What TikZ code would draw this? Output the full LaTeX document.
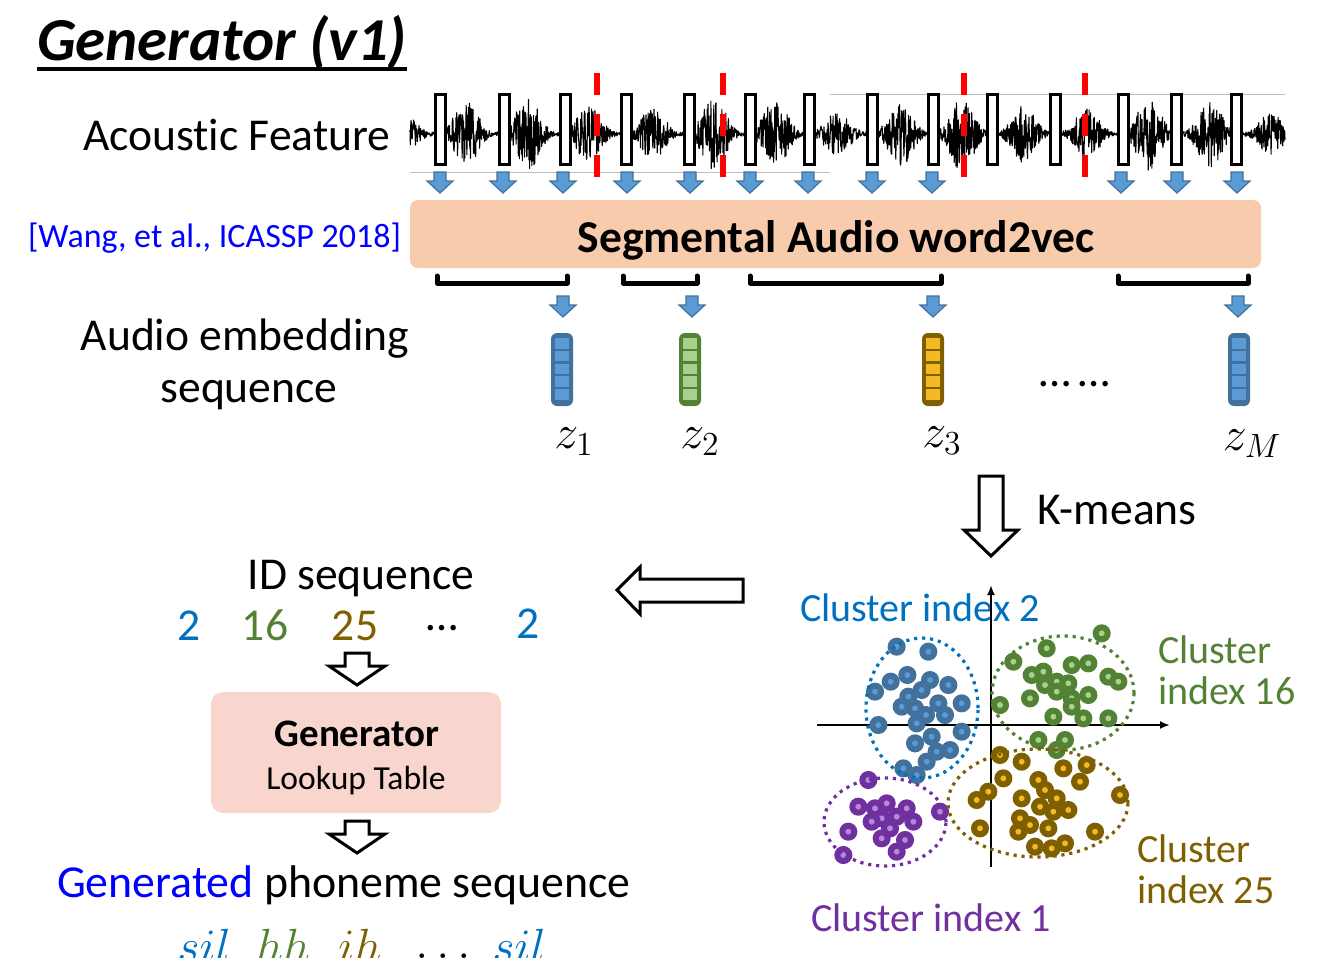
\RequirePackage{fix-cm}
\documentclass[tikz,border=0pt]{standalone}
\usepackage{fontspec}
\setmainfont{Carlito}[Ligatures=CommonOff]
\usetikzlibrary{arrows.meta}
\definecolor{peach}{HTML}{F8CBAD}
\definecolor{pinkbox}{HTML}{F9D6CD}
\definecolor{bfill}{HTML}{5B9BD5}
\definecolor{bdark}{HTML}{41719C}
\definecolor{gfill}{HTML}{A9D18E}
\definecolor{gdark}{HTML}{548235}
\definecolor{yfill}{HTML}{F5B921}
\definecolor{ydark}{HTML}{7F6000}
\definecolor{pfill}{HTML}{B18BD8}
\definecolor{pdark}{HTML}{7030A0}
\definecolor{cblue}{HTML}{0070C0}
\definecolor{cgreen}{HTML}{548235}
\definecolor{cgold}{HTML}{7F6000}
\definecolor{cpurple}{HTML}{7030A0}
\definecolor{linkblue}{HTML}{0000FF}
\newcommand\fsz[2]{\fontsize{#1}{#2}\selectfont}
\newcommand\embv[4]{%
  \begin{scope}[shift={(#2,333)}]
    \fill[#3, rounded corners=3pt] (-11,0) rectangle (11,73);
    \foreach \k in {0,...,4} \fill[#4] (-7,{5+\k*12.8}) rectangle (7,{5+\k*12.8+10.5});
    \coordinate (#1) at (0,36);
  \end{scope}}
\begin{document}
\begin{tikzpicture}[x=0.5pt,y=-0.5pt,
  lbl/.style={inner sep=0pt, outer sep=0pt},
  big/.style={lbl, font=\fsz{22.8}{27}},
  clus/.style={lbl, font=\fsz{20}{24}, anchor=base west},
  hollow/.style={draw=black, line width=1.5pt, fill=white, line join=miter},
  seg/.style={line width=2.5pt, line cap=round, line join=round},
  bar/.style={draw=black, line width=1.5pt, fill=white},
  redcut/.style={red, line width=3pt, dash pattern=on 11pt off 9.5pt},
  ell/.style={line width=1.6pt, dash pattern=on 1.6pt off 2.4pt},
  dotb/.style={draw=bdark, fill=bfill, line width=3pt},
  dotg/.style={draw=gdark, fill=gfill, line width=3pt},
  doty/.style={draw=ydark, fill=yfill, line width=3pt},
  dotp/.style={draw=pdark, fill=pfill, line width=3pt},
  axis/.style={line width=1pt, -{Latex[length=5pt,width=4pt]}},
  barrow/.pic={\draw[draw=bdark, fill=bfill, line width=0.6pt, line join=miter]
     (-6,0) -- (6,0) -- (6,9) -- (13,9) -- (0,21) -- (-13,9) -- (-6,9) -- cycle;},
  hdown/.pic={\draw[hollow] (-12,0) -- (12,0) -- (12,13) -- (28,13) -- (0,32) -- (-28,13) -- (-12,13) -- cycle;},
]
\useasboundingbox (0,0) rectangle (1333,958);
\clip (0,0) rectangle (1333,958);

% title
\node[lbl, anchor=base west, font=\fsz{30.5}{36}\bfseries\itshape] (title) at (37,60) {Generator (v1)};
\draw[line width=1.6pt] ([yshift=-4.5pt]title.base west) -- ([yshift=-4.5pt]title.base east);

% acoustic feature
\node[big, anchor=base west] (acoustic) at (83,150) {Acoustic Feature};
\draw[gray!50, line width=0.5pt] (410,172) -- (830,172);
\draw[gray!50, line width=0.5pt] (830,94) -- (1285,94);
\pgfmathsetseed{4321}
\draw[line width=0.55pt, line join=round] plot[domain=410:1285, samples=2400]
  (\x,{134+(2+35*(abs(sin(2.9*\x)))^3*(0.5+0.5*abs(sin(0.83*\x+20))))*rand});
\foreach \xx in {440,504,565,626,689,750,809,872,933,992,1055,1123,1176,1236}
  \draw[bar] (\xx-5,94) rectangle (\xx+5,164);
\foreach \xx in {597,723,964,1085}
  \draw[redcut] (\xx,73) -- (\xx,177);
\foreach \xx in {440,503,563,627,690,750,808,872,932,1121,1177,1237}
  \pic at (\xx,172) {barrow};

% segmental audio word2vec
\node[lbl, anchor=base west, font=\fsz{17}{20}, text=linkblue] (wang) at (28,247) {[Wang, et al., ICASSP 2018]};
\node[lbl, fill=peach, rounded corners=4pt, minimum width=425.5pt, minimum height=34pt] (s2v) at (835.5,234) {};
\node[lbl, anchor=base, font=\fsz{22.8}{27}\bfseries] (s2vtext) at (836,252) {Segmental Audio word2vec};

% brackets
\draw[seg] (437,276) -- (437,283) -- (567,283) -- (567,276);
\draw[seg] (623,276) -- (623,283) -- (697,283) -- (697,276);
\draw[seg] (750,276) -- (750,283) -- (941,283) -- (941,276);
\draw[seg] (1118,276) -- (1118,283) -- (1248,283) -- (1248,276);
\foreach \xx in {563,692,933,1238} \pic at (\xx,296) {barrow};

% embeddings
\node[big, anchor=base] (embA) at (245,350) {Audio embedding};
\node[big, anchor=base] (embB) at (249,402) {sequence};
\embv{v1}{562}{bdark}{bfill}
\embv{v2}{690}{gdark}{gfill}
\embv{v3}{933}{ydark}{yfill}
\embv{vM}{1239}{bdark}{bfill}
\node[lbl, font=\fsz{24}{28}] (z1) at (574,442) {$z_1$};
\node[lbl, font=\fsz{24}{28}] (z2) at (700,442) {$z_2$};
\node[lbl, font=\fsz{24}{28}] (z3) at (942,441) {$z_3$};
\node[lbl, font=\fsz{24}{28}] (zM) at (1252,444) {$z_M$};
\node[big, anchor=base] (edots) at (1075,386) {…\,…};

% K-means
\draw[hollow] (979,476) -- (1003,476) -- (1003,530) -- (1018,530) -- (991,556) -- (964,530) -- (979,530) -- cycle;
\node[big, anchor=base west] (kmeans) at (1037,524) {K-means};

% left arrow
\draw[hollow] (617,590) -- (640,567) -- (640,579) -- (743,579) -- (743,602) -- (640,602) -- (640,614) -- cycle;

% ID sequence
\node[big, anchor=base] (idseq) at (361,589) {ID sequence};
\node[big, anchor=base, text=cblue] (n1) at (189,640) {2};
\node[big, anchor=base, text=cgreen] (n2) at (265,640) {16};
\node[big, anchor=base, text=cgold] (n3) at (355,640) {25};
\node[big, anchor=base] (n4) at (442,630) {…};
\node[big, anchor=base, text=cblue] (n5) at (528,638) {2};
\pic at (357,653) {hdown};
\node[lbl, fill=pinkbox, rounded corners=6pt, minimum width=145pt, minimum height=60.5pt] (gen) at (356,752.5) {};
\node[lbl, anchor=base, font=\fsz{19.5}{24}\bfseries] (genA) at (357,746) {Generator};
\node[lbl, anchor=base, font=\fsz{16.8}{20}] (genB) at (356,789) {Lookup Table};
\pic at (357,821) {hdown};
\node[lbl, anchor=base west, font=\fsz{22.9}{28}] (gps) at (57,897) {\textcolor{linkblue}{Generated} phoneme sequence};
\node[lbl, anchor=base, font=\fsz{24}{28}, text=cblue] (p1) at (204,962) {$sil$};
\node[lbl, anchor=base, font=\fsz{24}{28}, text=cgreen] (p2) at (283,962) {$hh$};
\node[lbl, anchor=base, font=\fsz{24}{28}, text=cgold] (p3) at (360,962) {$ih$};
\node[lbl, anchor=base, font=\fsz{24}{28}] (p4) at (443,958) {$\ldots$};
\node[lbl, anchor=base, font=\fsz{24}{28}, text=cblue] (p5) at (519,962) {$sil$};

% scatter
\node[clus, text=cblue] (c2) at (800,621) {Cluster index 2};
\node[clus, text=cgreen] (c16a) at (1158,663) {Cluster};
\node[clus, text=cgreen] (c16b) at (1158,704) {index 16};
\node[clus, text=cgold] (c25a) at (1137,862) {Cluster};
\node[clus, text=cgold] (c25b) at (1137,903) {index 25};
\node[clus, text=cpurple] (c1) at (811,931) {Cluster index 1};
\coordinate (ybot) at (991,867);
\coordinate (ytop) at (991,585);
\coordinate (xl) at (817,725);
\coordinate (xr) at (1170,725);
\draw[axis] (ybot) -- (ytop);
\draw[axis] (xl) -- (xr);
\begin{scope}[shift={(800,580)}]
\begin{scope}[x=0.16667pt,y=-0.16667pt]
\foreach \a/\b in {290/200,385/215,225/335,272/305,322/285,390/300,445/315,365/330,325/350,305/380,345/385,415/370,485/370,235/435,350/430,378/405,435/405,485/455,345/490,395/470,450/510,410/515,380/545,310/565,350/585}
  \draw[dotb] (\a,\b) circle[radius=3pt];
\foreach \a/\b in {905/160,740/205,640/245,695/285,730/275,770/305,735/315,815/255,865/250,805/310,770/335,815/355,865/345,925/290,955/305,690/355,600/375,815/380,760/410,850/415,925/415,715/480,795/480,770/510}
  \draw[dotg] (\a,\b) circle[radius=3pt];
\foreach \a/\b in {600/525,665/545,790/565,860/555,610/595,715/600,840/605,565/635,530/660,735/630,665/655,770/655,805/690,720/680,760/695,660/715,690/735,540/745,745/745,655/755,885/755,705/800,755/805,795/790,960/645}
  \draw[doty] (\a,\b) circle[radius=3pt];
\foreach \a/\b in {205/600,175/680,225/685,260/670,320/685,245/715,290/710,340/725,215/725,145/755,270/745,245/775,315/780,290/815,130/825,420/695}
  \draw[dotp] (\a,\b) circle[radius=3pt];
\end{scope}
\end{scope}
\draw[ell, cblue] (922,708) ellipse[x radius=28pt, y radius=35pt];
\draw[ell, cgreen] (1063,693) ellipse[x radius=35.5pt, y radius=28.5pt];
\draw[ell, cgold] (1038,803) ellipse[x radius=45pt, y radius=27pt];
\draw[ell, cpurple] (885,822) ellipse[x radius=30.5pt, y radius=22pt];
\end{tikzpicture}
\end{document}
